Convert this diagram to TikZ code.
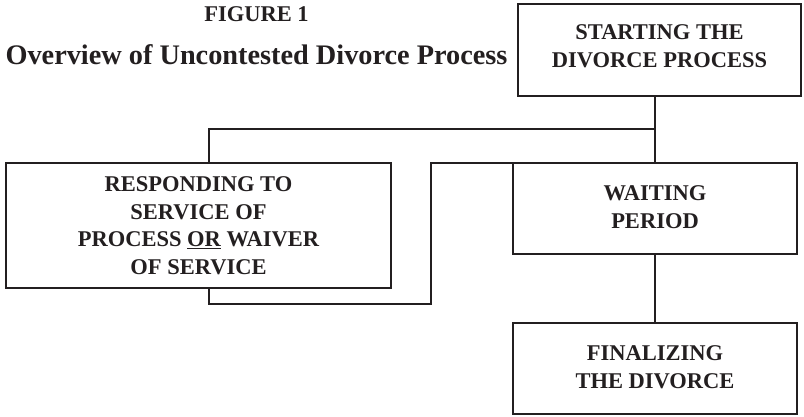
\documentclass[tikz,border=0pt]{standalone}
\usepackage{fontspec}
\setmainfont{Liberation Serif}
\definecolor{ink}{HTML}{231F20}
\tikzset{
  stagebox/.style={draw=ink, line width=2.6pt, outer sep=0pt, inner sep=0pt,
    text=ink, align=center, font=\fontsize{22.5}{27.5}\selectfont\bfseries},
  link/.style={draw=ink, line width=1.8pt},
}
% extra depth below the last line lifts a node's text a little
\newcommand{\liftby}[1]{\rule[-#1]{0pt}{0pt}}
\begin{document}
\begin{tikzpicture}[x=1pt, y=-1pt]
  \useasboundingbox (0,0) rectangle (804,417);

  % heading
  \node[anchor=base, text=ink, inner sep=0pt, font=\fontsize{22.5}{27}\selectfont\bfseries]
    (fig) at (256.5,22) {FIGURE 1};
  \node[anchor=base, text=ink, inner sep=0pt, font=\fontsize{28.3}{34}\selectfont\bfseries]
    (title) at (256.5,65) {Overview of Uncontested Divorce Process};

  % stages
  \node[stagebox, minimum width=283pt, minimum height=92pt] (start) at (659.5,50)
    {STARTING THE\\DIVORCE PROCESS\liftby{8pt}};
  \node[stagebox, minimum width=385pt, minimum height=125pt] (resp) at (198.5,225.5)
    {RESPONDING TO\\SERVICE OF\\PROCESS \underline{OR} WAIVER\\OF SERVICE};
  \node[stagebox, minimum width=284pt, minimum height=91pt] (wait) at (655,208.5)
    {WAITING\\PERIOD\liftby{3pt}};
  \node[stagebox, minimum width=284pt, minimum height=91pt] (final) at (655,368.5)
    {FINALIZING\\THE DIVORCE\liftby{3pt}};

  % routing points
  \coordinate (split) at (655,129);
  \coordinate (rx) at (209,0);
  \coordinate (low) at (431,304);

  % connectors
  \draw[link] (start.south -| wait.north) -- (wait.north);
  \draw[link] (split) -| (rx |- resp.north);
  \draw[link] (rx |- resp.south) |- (low) |- (wait.north west);
  \draw[link] (wait.south) -- (final.north);
\end{tikzpicture}
\end{document}
